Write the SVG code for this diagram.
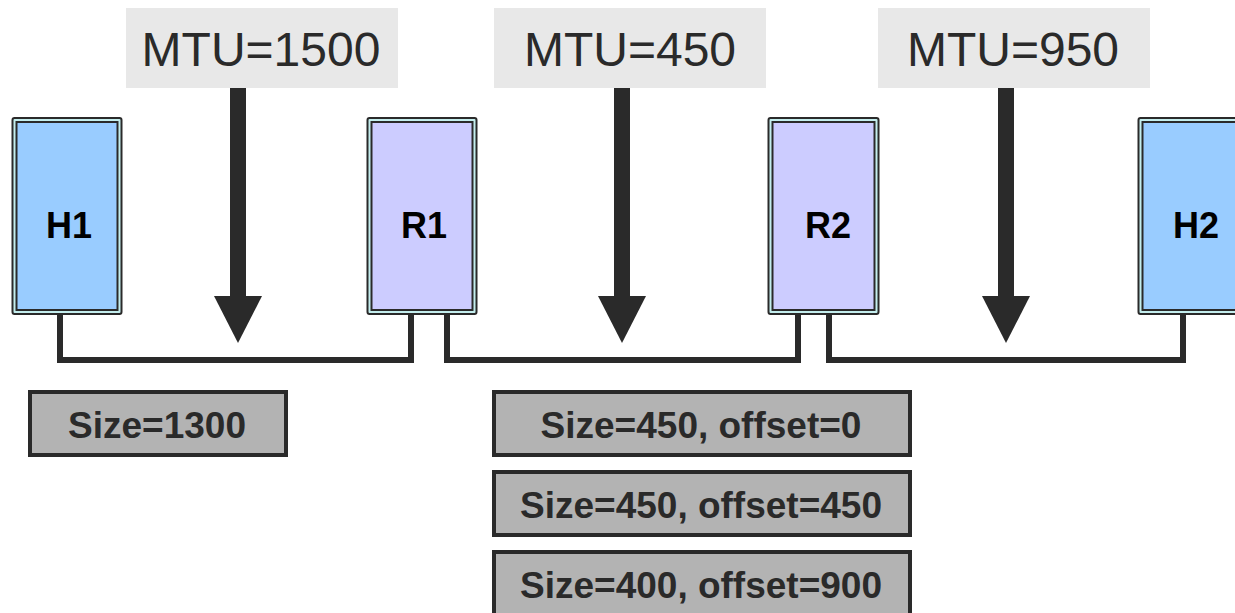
<svg xmlns="http://www.w3.org/2000/svg" width="1235" height="613" viewBox="0 0 1235 613">
<style>
.outer{fill:#c4eeee;stroke:#2a2a2a;stroke-width:2}
.host{fill:#99ccff;stroke:#2a2a2a;stroke-width:2}
.router{fill:#ccccff;stroke:#2a2a2a;stroke-width:2}
.nlabel{font-family:"Liberation Sans",Arial,sans-serif;font-weight:bold;font-size:36px;fill:#000;text-anchor:middle}
.mtubg{fill:#e8e8e8}
.mtu{font-family:"Liberation Sans",Arial,sans-serif;font-size:48px;fill:#2a2a2a;text-anchor:middle}
.frag{fill:#b3b3b3;stroke:#2a2a2a;stroke-width:4}
.ftext{font-family:"Liberation Sans",Arial,sans-serif;font-weight:bold;font-size:37px;fill:#2a2a2a;text-anchor:middle}
.link{fill:none;stroke:#2a2a2a;stroke-width:6}
.shaft{fill:#2a2a2a}
</style>
<g id="H1">
<rect class="outer" x="12.5" y="118" width="109" height="196" rx="2"/>
<rect class="host" x="16.5" y="122" width="101" height="188"/>
<text class="nlabel" x="69" y="238">H1</text>
</g>
<g id="R1">
<rect class="outer" x="367.5" y="118" width="109" height="196" rx="2"/>
<rect class="router" x="371.5" y="122" width="101" height="188"/>
<text class="nlabel" x="424" y="238">R1</text>
</g>
<g id="R2">
<rect class="outer" x="768.5" y="118" width="110" height="196" rx="2"/>
<rect class="router" x="772.5" y="122" width="102" height="188"/>
<text class="nlabel" x="828" y="238">R2</text>
</g>
<g id="H2">
<rect class="outer" x="1138.5" y="118" width="110" height="196" rx="2"/>
<rect class="host" x="1142.5" y="122" width="102" height="188"/>
<text class="nlabel" x="1196" y="238">H2</text>
</g>
<g id="connectors">
<polyline class="link" points="60,314 60,360 411,360 411,314"/>
<polyline class="link" points="447,314 447,360 798,360 798,314"/>
<polyline class="link" points="829,314 829,360 1183,360 1183,314"/>
</g>
<g id="mtu1">
<rect class="mtubg" x="126" y="8" width="272" height="80"/>
<text class="mtu" x="261" y="66">MTU=1500</text>
<rect class="shaft" x="230" y="88" width="16" height="210"/>
<polygon class="shaft" points="214,296 262,296 238,343"/>
</g>
<g id="mtu2">
<rect class="mtubg" x="494" y="8" width="272" height="80"/>
<text class="mtu" x="630" y="66">MTU=450</text>
<rect class="shaft" x="614" y="88" width="16" height="210"/>
<polygon class="shaft" points="598,296 646,296 622,343"/>
</g>
<g id="mtu3">
<rect class="mtubg" x="878" y="8" width="272" height="80"/>
<text class="mtu" x="1013" y="66">MTU=950</text>
<rect class="shaft" x="998" y="88" width="16" height="210"/>
<polygon class="shaft" points="982,296 1030,296 1006,343"/>
</g>
<g id="frag1300">
<rect class="frag" x="30" y="392" width="256" height="63"/>
<text class="ftext" x="157" y="438">Size=1300</text>
</g>
<g id="frag0">
<rect class="frag" x="494" y="392" width="416" height="63"/>
<text class="ftext" x="701" y="438">Size=450, offset=0</text>
</g>
<g id="frag450">
<rect class="frag" x="494" y="472" width="416" height="63"/>
<text class="ftext" x="701" y="518">Size=450, offset=450</text>
</g>
<g id="frag900">
<rect class="frag" x="494" y="552" width="416" height="70"/>
<text class="ftext" x="701" y="598">Size=400, offset=900</text>
</g>
</svg>
